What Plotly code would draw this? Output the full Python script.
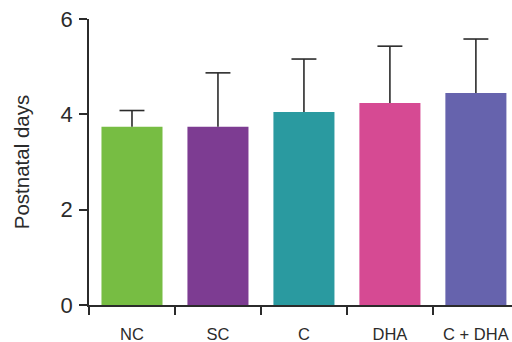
import plotly.graph_objects as go

# Postnatal day data per group: mean and upper SD
groups = ["NC", "SC", "C", "DHA", "C + DHA"]
means = [3.74, 3.74, 4.05, 4.24, 4.45]
sd_upper = [0.34, 1.13, 1.11, 1.19, 1.13]
colors = ["#77bd43", "#7d3c92", "#2a9aa0", "#d64a93", "#6663ad"]
y_ticks = [0, 2, 4, 6]

axis_color = "#2b2b2b"
font_family = "Liberation Sans, Arial, sans-serif"
cap_half = 0.145

fig = go.Figure(
    go.Bar(
        x=groups,
        y=means,
        marker=dict(color=colors, line=dict(width=0)),
        width=0.71,
    )
)

# One-sided (upper) error bars: stem from bar top plus a cap
shapes = []
for i, (m, s) in enumerate(zip(means, sd_upper)):
    top = m + s
    shapes.append(dict(type="line", xref="x", yref="y", x0=i, x1=i, y0=m, y1=top,
                       line=dict(color=axis_color, width=1.6), layer="above"))
    shapes.append(dict(type="line", xref="x", yref="y", x0=i - cap_half, x1=i + cap_half,
                       y0=top, y1=top, line=dict(color=axis_color, width=1.6), layer="above"))

fig.update_layout(
    width=512,
    height=342,
    margin=dict(l=89, r=0, t=19, b=37),
    plot_bgcolor="white",
    paper_bgcolor="white",
    showlegend=False,
    shapes=shapes,
    font=dict(family=font_family, color="#2b2b2b"),
    xaxis=dict(
        type="category",
        range=[-0.5, 4.42],
        tickson="boundaries",
        ticks="outside",
        ticklen=8,
        tickwidth=1.5,
        tickcolor=axis_color,
        showline=True,
        linecolor=axis_color,
        linewidth=1.6,
        showgrid=False,
        tickfont=dict(size=16.5),
        ticklabelstandoff=13,
    ),
    yaxis=dict(
        range=[0, 6],
        tickvals=y_ticks,
        ticks="outside",
        ticklen=8,
        tickwidth=1.5,
        tickcolor=axis_color,
        showline=True,
        linecolor=axis_color,
        linewidth=1.6,
        showgrid=False,
        zeroline=False,
        tickfont=dict(size=22),
        ticklabelstandoff=2,
        title=dict(text="Postnatal days", font=dict(size=20.5), standoff=25),
    ),
)

fig.write_html("out.html")
